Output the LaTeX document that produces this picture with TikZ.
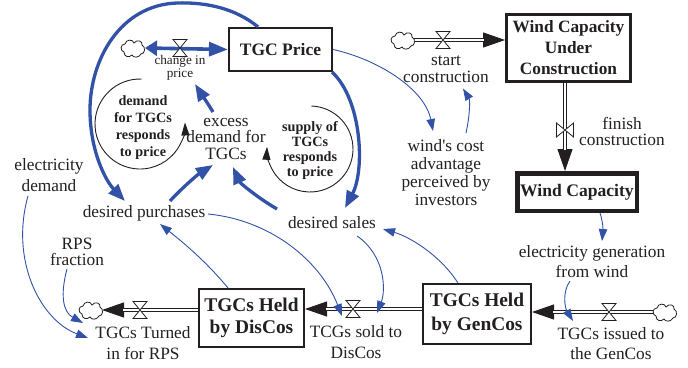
\documentclass[tikz,border=0pt]{standalone}
\usepackage{fontspec}
\setmainfont{Liberation Serif}[Ligatures=TeXOff]
\usetikzlibrary{arrows.meta}
\definecolor{lnk}{RGB}{50,82,168}
\definecolor{ink}{RGB}{35,31,32}
\tikzset{
  lbl/.style={inner sep=0pt, align=center, text=ink, font=\fontsize{17.3}{18}\selectfont},
  stockbox/.style={draw=ink, inner sep=0pt, align=center, text=ink, font=\bfseries\fontsize{17.3}{21}\selectfont},
  loopname/.style={inner sep=0pt, align=center, text=ink, font=\bfseries\fontsize{14.2}{17}\selectfont},
  linkthin/.style={draw=lnk, line width=0.9pt, -{Triangle[length=12pt,width=8.5pt]}},
  linkthick/.style={draw=lnk, line width=3.3pt, -{Triangle[length=17pt,width=13pt]}},
  pipe/.style={draw=ink, double=white, double distance=2.6pt, line width=1pt},
  flowtip/.style={draw=ink, line width=1pt, -{Triangle[length=22pt,width=15pt]}},
  looparrow/.style={draw=ink, line width=0.9pt, -{Triangle[length=13pt,width=8pt]}},
  sdcloud/.pic={\draw[ink, line width=0.8pt, fill=white]
     (-9,-4) .. controls (-13,-3) and (-13,4) .. (-8,4)
     .. controls (-7,9) and (0,9) .. (1,5)
     .. controls (4,9) and (10,7) .. (9,3)
     .. controls (13,1) and (12,-6) .. (8,-6)
     .. controls (6,-10) and (0,-10) .. (-1,-7)
     .. controls (-4,-10) and (-9,-9) .. (-9,-4) -- cycle;},
  valveh/.pic={\draw[ink, line width=0.8pt, fill=white]
     (-7,8.5) -- (7,8.5) -- (-7,-8.5) -- (7,-8.5) -- cycle;},
  valvev/.pic={\draw[ink, line width=0.8pt, fill=white]
     (8.5,-7) -- (8.5,7) -- (-8.5,-7) -- (-8.5,7) -- cycle;},
}
\begin{document}
\begin{tikzpicture}[x=1pt,y=1pt]
\useasboundingbox (0,0) rectangle (688,-367);

% ---------- stocks ----------
\node[stockbox, line width=2.2pt, minimum width=103pt, minimum height=43pt,
      font=\bfseries\fontsize{17.5}{21}\selectfont] (price) at (280.5,-49.5) {TGC Price};
\node[stockbox, line width=2.8pt, minimum width=124pt, minimum height=67pt] (wcuc) at (568.5,-48) {Wind Capacity\\Under\\Construction};
\node[stockbox, line width=4.5pt, minimum width=119.5pt, minimum height=37.5pt,
      font=\bfseries\fontsize{17.6}{21}\selectfont] (wcap) at (577,-192) {Wind Capacity};
\node[stockbox, line width=2pt, minimum width=108pt, minimum height=60pt,
      font=\bfseries\fontsize{19.4}{23.5}\selectfont] (gencos) at (477,-314) {TGCs Held\\by GenCos};
\node[stockbox, line width=2pt, minimum width=105pt, minimum height=58pt,
      font=\bfseries\fontsize{19.4}{22.5}\selectfont] (discos) at (251.5,-318) {TGCs Held\\by DisCos};

% ---------- labels ----------
\node[lbl, font=\fontsize{13.2}{11.5}\selectfont] (chprice) at (180,-68) {change in\\price};
\node[lbl, font=\fontsize{17.3}{17}\selectfont] (startc) at (446,-69) {start\\construction};
\node[lbl, font=\fontsize{17.3}{16}\selectfont] (finishc) at (622,-131) {finish\\construction};
\node[lbl, font=\fontsize{17.3}{18}\selectfont] (winds) at (446,-173) {wind's cost\\advantage\\perceived by\\investors};
\node[lbl, font=\fontsize{17.3}{20}\selectfont] (elecgen) at (592,-262) {electricity generation\\from wind};
\node[lbl, font=\fontsize{17.3}{20}\selectfont] (issued) at (611,-344) {TGCs issued to\\the GenCos};
\node[lbl, font=\fontsize{17.3}{21}\selectfont] (sold) at (356,-342) {TCGs sold to\\DisCos};
\node[lbl, font=\fontsize{17.3}{21}\selectfont] (turned) at (143,-343.5) {TGCs Turned\\in for RPS};
\node[lbl, font=\fontsize{17.3}{16.5}\selectfont] (rps) at (77,-252) {RPS\\fraction};
\node[lbl, font=\fontsize{17.3}{20.5}\selectfont] (elecd) at (49,-175) {electricity\\demand};
\node[lbl] (despur) at (144,-213) {desired purchases};
\node[lbl] (dessales) at (332,-223) {desired sales};
\node[lbl, font=\fontsize{17.3}{16.3}\selectfont] (excess) at (226,-139) {excess\\demand for\\TGCs};
\node[loopname] (loopd) at (143,-127.5) {demand\\for TGCs\\responds\\to price};
\node[loopname, font=\bfseries\fontsize{14.2}{15}\selectfont] (loops) at (310,-151) {supply of\\TGCs\\responds\\to price};

% ---------- loop arrows ----------
\draw[looparrow] (140,-124) ++(88:45) arc[start angle=88, end angle=362, radius=45];
\draw[looparrow] (310,-149) ++(88:43) arc[start angle=88, end angle=-183, radius=43];

% ---------- flows ----------
\coordinate (c1) at (133,-48);
\coordinate (v1) at (180,-48);
\coordinate (c2) at (403,-40);
\coordinate (v2) at (443,-40);
\coordinate (v3) at (565,-130);
\coordinate (c4) at (665,-312);
\coordinate (v4) at (609,-312);
\coordinate (v5) at (353,-309);
\coordinate (c6) at (91,-310);
\coordinate (v6) at (140,-310);

% change in price (blue)
\draw[lnk, line width=3.6pt, {Triangle[length=12pt,width=15pt]}-{Triangle[length=19pt,width=14pt]}]
   ([xshift=12pt]c1) -- (price.west);

% start construction
\draw[flowtip] ([xshift=11pt]c2) -- (c2 -| wcuc.west);
\draw[pipe, shorten >=21pt] ([xshift=11pt]c2) -- (c2 -| wcuc.west);
% finish construction
\draw[flowtip] (v3 |- wcuc.south) -- (v3 |- wcap.north);
\draw[pipe, shorten >=21pt] (v3 |- wcuc.south) -- (v3 |- wcap.north);
% TGCs issued
\draw[flowtip] ([xshift=-11pt]c4) -- (c4 -| gencos.east);
\draw[pipe, shorten >=21pt] ([xshift=-11pt]c4) -- (c4 -| gencos.east);
% TGCs sold
\draw[flowtip] (v5 -| gencos.west) -- (v5 -| discos.east);
\draw[pipe, shorten >=21pt] (v5 -| gencos.west) -- (v5 -| discos.east);
% TGCs turned in
\draw[flowtip] (v6 -| discos.west) -- ([xshift=11pt]c6);
\draw[pipe, shorten >=21pt] (v6 -| discos.west) -- ([xshift=11pt]c6);

\pic at (c1) {sdcloud};
\pic at (c2) {sdcloud};
\pic at (c4) {sdcloud};
\pic at (c6) {sdcloud};
\pic at (v1) {valveh};
\pic at (v2) {valveh};
\pic at (v3) {valvev};
\pic at (v4) {valveh};
\pic at (v5) {valveh};
\pic at (v6) {valveh};

% ---------- thick links ----------
\draw[linkthick] ([xshift=-22.5pt]price.north) .. controls (235,-8) and (205,-2) .. (177,-3)
   .. controls (120,-5) and (90,-60) .. (90,-110)
   .. controls (90,-150) and (105,-180) .. ([shift={(-19,12)}]despur.center);
\draw[linkthick] ([xshift=-1pt]price.south east) .. controls (362,-100) and (365,-170) .. ([shift={(13,15)}]dessales.center);
\draw[linkthick] ([shift={(26,12)}]despur.center) .. controls (180,-190) and (197,-175) .. ([shift={(-13,-26)}]excess.center);
\draw[linkthick] ([shift={(-55,14)}]dessales.center) .. controls (258,-198) and (240,-183) .. ([shift={(7,-28)}]excess.center);
\draw[linkthick] ([shift={(-13,27)}]excess.center) .. controls (207,-102) and (200,-92) .. ([shift={(15,-16)}]chprice.center);

% ---------- thin links ----------
\draw[linkthin] (price.east) .. controls (380,-60) and (425,-90) .. ([shift={(-13,42)}]winds.center);
\draw[linkthin] ([shift={(20,40)}]winds.center) .. controls (470,-115) and (470,-100) .. ([shift={(17,-19.5)}]startc.center);
\draw[linkthin] ([xshift=23pt]wcap.south) .. controls (603,-222) and (603,-230) .. ([shift={(10,21)}]elecgen.center);
\draw[linkthin] ([shift={(-22,-19)}]elecgen.center) .. controls (562,-292) and (565,-308) .. ([shift={(-38,23)}]issued.center);
\draw[linkthin] ([xshift=-19pt]gencos.north) .. controls (440,-255) and (410,-237) .. ([shift={(51,-6)}]dessales.center);
\draw[linkthin] ([shift={(25,-13)}]dessales.center) .. controls (385,-255) and (386,-290) .. ([shift={(21,29)}]sold.center);
\draw[linkthin] ([shift={(64,-1)}]despur.center) .. controls (270,-220) and (320,-260) .. ([shift={(-14,26)}]sold.center);
\draw[linkthin] ([xshift=-23.5pt]discos.north) .. controls (205,-260) and (180,-240) .. ([shift={(16,-11)}]despur.center);
\draw[linkthin] ([shift={(-21,-21)}]elecd.center) .. controls (10,-260) and (40,-320) .. ([shift={(-55,5.5)}]turned.center);
\draw[linkthin] ([shift={(-10,-17)}]rps.center) .. controls (60,-295) and (63,-312) .. ([shift={(-60,20.5)}]turned.center);
\end{tikzpicture}
\end{document}
